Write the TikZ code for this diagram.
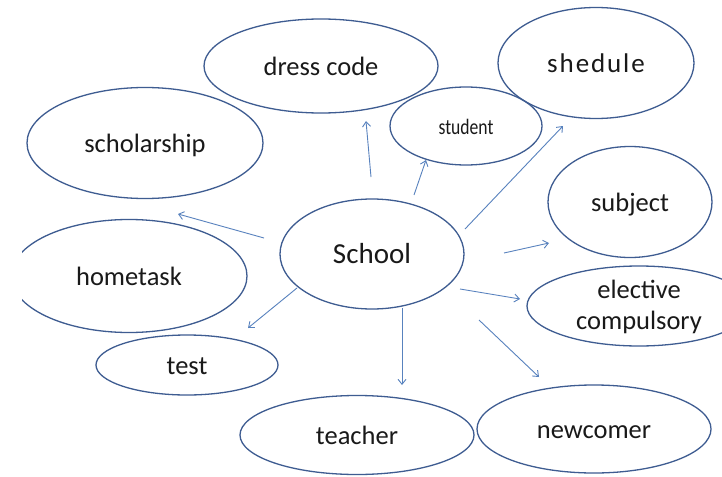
\documentclass[tikz,border=0pt]{standalone}
\usepackage{fontspec}
\setmainfont{Carlito}
\newfontfamily\narrowfont[FakeStretch=0.8]{Carlito}
\newfontfamily\widefont[LetterSpace=7]{Carlito}
\usetikzlibrary{shapes.geometric,arrows.meta}
\definecolor{ellcol}{RGB}{62,92,145}
\definecolor{arrcol}{RGB}{88,130,190}
\definecolor{txtcol}{RGB}{25,25,25}
\tikzset{
  bubble/.style={draw=ellcol, line width=1.3pt, ellipse, inner sep=0pt,
    text height=19pt, text depth=0pt,
    text=txtcol, font=\fontsize{26.5}{31}\selectfont},
  link/.style={draw=arrcol, line width=0.9pt, -{Straight Barb[length=5pt,width=8pt,line width=0.9pt]}}
}
\begin{document}
\begin{tikzpicture}[x=1pt,y=-1pt]
\useasboundingbox (0,0) rectangle (722,476);
\fill[white] (0,0) rectangle (722,476);
\clip (22,0) rectangle (722,476);
% ellipses
\node[bubble, minimum width=234pt, minimum height=94pt] (dress) at (321,66) {dress code};
\node[bubble, minimum width=236pt, minimum height=111pt] (schol) at (145,143) {scholarship};
\node[bubble, minimum width=196pt, minimum height=111pt, font=\widefont\fontsize{27}{31}\selectfont] (shed) at (596,63) {shedule};
\node[bubble, minimum width=152pt, minimum height=78pt, font=\narrowfont\fontsize{22}{25}\selectfont, text height=17pt] (stud) at (466,126) {student};
\node[bubble, minimum width=164pt, minimum height=111pt] (subj) at (630,202) {subject};
\node[bubble, minimum width=184pt, minimum height=110pt, font=\fontsize{29}{33}\selectfont, text height=19pt] (school) at (372,254) {School};
\node[bubble, minimum width=236pt, minimum height=113pt] (home) at (129,276) {hometask};
\node[bubble, minimum width=182pt, minimum height=60pt] (test) at (187,365) {test};
\node[bubble, minimum width=234pt, minimum height=79pt] (teach) at (357,435) {teacher};
\node[bubble, minimum width=234pt, minimum height=88pt] (newc) at (594,429) {newcomer};
\node[bubble, minimum width=224pt, minimum height=80pt] (elec) at (639,306)
  {\raisebox{17.5pt}{\begin{tabular}[t]{@{}c@{}}elective\\compulsory\end{tabular}}};
% arrow end points
\coordinate (a1s) at (371,177); \coordinate (a1e) at (366,121);
\coordinate (a2s) at (414,195); \coordinate (a2e) at (426,160);
\coordinate (a3s) at (465,229); \coordinate (a3e) at (563,126);
\coordinate (a4s) at (264,238); \coordinate (a4e) at (178,214);
\coordinate (a5s) at (297,288); \coordinate (a5e) at (248,328);
\coordinate (a6s) at (402,308); \coordinate (a6e) at (402,385);
\coordinate (a7s) at (504,253); \coordinate (a7e) at (549,243);
\coordinate (a8s) at (460,289); \coordinate (a8e) at (520,299);
\coordinate (a9s) at (479,320); \coordinate (a9e) at (539,377);
\foreach \i in {1,...,9} {\draw[link] (a\i s) -- (a\i e);}
\end{tikzpicture}
\end{document}
